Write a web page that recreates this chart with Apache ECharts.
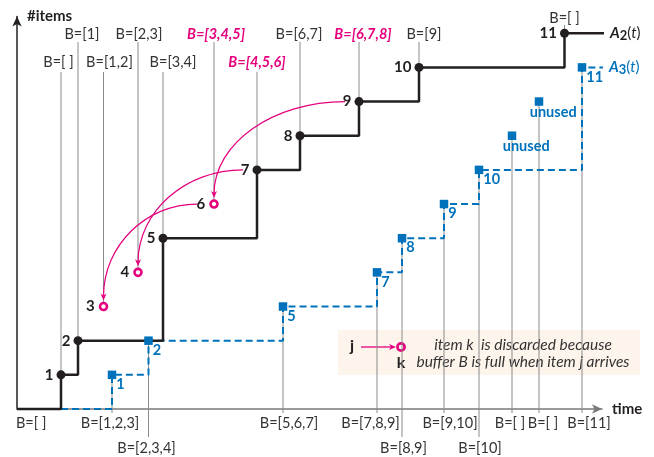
<!DOCTYPE html>
<html><head><meta charset="utf-8">
<script src="https://cdn.jsdelivr.net/npm/echarts@6/dist/echarts.min.js"></script>
<style>html,body{margin:0;padding:0;background:#fff}#c{width:654px;height:457px}</style>
</head><body><div id="c"></div>
<script>
// ---------------- data ----------------
// arrivals of items 1..11 (time, cumulative count = item id)
const itemIds = [1, 2, 3, 4, 5, 6, 7, 8, 9, 10, 11];
const arrivalTimes = [4.4, 6.1, 8.65, 12.1, 14.6, 19.7, 24.0, 28.3, 34.2, 40.2, 54.75];
const discardedItems = [3, 4, 6];
const discardCause = [[6, 3], [7, 4], [9, 6]];          // [j, k]: k discarded when j arrives
const bufferAtArrival = ['B=[ ]', 'B=[1]', 'B=[1,2]', 'B=[2,3]', 'B=[3,4]', 'B=[3,4,5]', 'B=[4,5,6]', 'B=[6,7]', 'B=[6,7,8]', 'B=[9]', 'B=[ ]'];
const bufferFull = [false, false, false, false, false, true, true, false, true, false, false];
const a2EndTime = 58.9;

// output (A3) events
const outputTimes = [9.5, 13.15, 26.6, 36.0, 38.5, 42.7, 46.2, 49.5, 52.2, 56.5];
const outputLevels = [1, 2, 3, 4, 5, 6, 7, 8, 9, 10];
const outputLabels = ['1', '2', '5', '7', '8', '9', '10', 'unused', 'unused', '11'];
const outputUsed = [true, true, true, true, true, true, true, false, false, true];
const bufferAtOutput = ['B=[1,2,3]', 'B=[2,3,4]', 'B=[5,6,7]', 'B=[7,8,9]', 'B=[8,9]', 'B=[9,10]', 'B=[10]', 'B=[ ]', 'B=[ ]', 'B=[11]'];
const a3StartTime = 4.4;
const a3EndTime = 58.9;
const originBuffer = 'B=[ ]';

// ---------------- layout / style ----------------
const FONT = 'Lato, "Noto Sans", sans-serif';
const BLACK = '#231f20', PINK = '#e5007e', BLUE = '#0072bc', GRAY = '#8a8a8a', TXT = '#333';
const X_MAX = 58.5, Y_MAX = 11.49;
const topTier = ['low', 'up', 'low', 'up', 'low', 'up', 'low', 'up', 'up', 'up', 'top'];
const tierY = { up: 10.744, low: 9.866, top: 11.24 };
const tierLabelDy = { up: -8, low: -10, top: -7 };
const topLabelDx = [-2.5, 4, 6, 1, 10, 2, 0, -1, 4, 5, 0];
const botTier = ['short', 'long', 'short', 'short', 'long', 'short', 'long', 'short', 'short', 'short'];
const botExt = { short: 4, long: 28 }, botLabelDy = { short: 14, long: 39 };
const botLabelDx = [-2, -2, 6, -6.5, 1.5, 6, 1, -2, 4, 7];

// ---------------- derived series data ----------------
const keptIdx = itemIds.map((id, i) => i).filter(i => !discardedItems.includes(itemIds[i]));
const a2Line = [[0, 0]].concat(keptIdx.map(i => [arrivalTimes[i], itemIds[i]]), [[a2EndTime, itemIds[itemIds.length - 1]]]);
const keptPts = keptIdx.map(i => ({ value: [arrivalTimes[i], itemIds[i]], name: String(itemIds[i]) }));
const discPts = itemIds.map((id, i) => i).filter(i => discardedItems.includes(itemIds[i]))
  .map(i => ({ value: [arrivalTimes[i], itemIds[i]], name: String(itemIds[i]) }));
const usedIdx = outputTimes.map((t, i) => i).filter(i => outputUsed[i]);
const a3Line = [[a3StartTime, 0]].concat(usedIdx.map(i => [outputTimes[i], outputLevels[i]]),
  [[a3EndTime, outputLevels[usedIdx[usedIdx.length - 1]]]]);
const outPts = outputTimes.map((t, i) => ({
  value: [t, outputLevels[i]], name: outputLabels[i],
  label: outputUsed[i] ? { position: 'right', distance: 0, offset: [0, 9.5] }
                       : { position: 'right', distance: -13.5, offset: [0, 11] }
}));
const timeOf = id => arrivalTimes[itemIds.indexOf(id)];

const chart = echarts.init(document.getElementById('c'), null, { renderer: 'canvas' });
chart.setOption({
  animation: false,
  backgroundColor: '#fff',
  textStyle: { fontFamily: FONT },
  grid: { left: 17, right: 52, top: 16.5, bottom: 48, containLabel: false },
  xAxis: {
    type: 'value', min: 0, max: X_MAX,
    name: 'time', nameLocation: 'end', nameGap: 10,
    nameTextStyle: { fontFamily: FONT, fontWeight: 'bold', fontSize: 15, color: BLACK },
    axisLine: { show: true, onZero: false, symbol: ['none', 'arrow'], symbolSize: [7, 10],
      lineStyle: { color: '#7a7a7a', width: 1.5 } },
    axisTick: { show: false }, axisLabel: { show: false }, splitLine: { show: false }
  },
  yAxis: {
    type: 'value', min: 0, max: Y_MAX,
    name: '#items', nameLocation: 'end', nameGap: 0,
    nameTextStyle: { fontFamily: FONT, fontWeight: 'bold', fontSize: 15, color: BLACK,
      align: 'left', verticalAlign: 'middle', padding: [0, 0, 0, 10] },
    axisLine: { show: true, symbol: ['none', 'arrow'], symbolSize: [7, 10],
      lineStyle: { color: BLACK, width: 1.5 } },
    axisTick: { show: false }, axisLabel: { show: false }, splitLine: { show: false }
  },
  series: [
    { // top gray guide lines with buffer states at arrivals
      type: 'custom', coordinateSystem: 'cartesian2d', clip: false, z: 1, silent: true,
      data: arrivalTimes.map((t, i) => [t, itemIds[i], i]),
      encode: { x: 0, y: 1 },
      renderItem(params, api) {
        const i = api.value(2);
        const p = api.coord([api.value(0), api.value(1)]);
        const tier = topTier[i];
        const ty = api.coord([0, tierY[tier]])[1];
        const full = bufferFull[i];
        return { type: 'group', children: [
          { type: 'line', shape: { x1: p[0], y1: p[1], x2: p[0], y2: ty }, style: { stroke: GRAY, lineWidth: 1 } },
          { type: 'text', x: p[0] + topLabelDx[i], y: ty + tierLabelDy[tier],
            style: { text: bufferAtArrival[i], fill: full ? PINK : TXT, fontFamily: FONT,
              fontSize: 14.5, fontWeight: full ? 'bold' : 'normal', fontStyle: full ? 'italic' : 'normal',
              align: 'center', verticalAlign: 'middle' } }
        ] };
      }
    },
    { // bottom gray guide lines with buffer states at outputs
      type: 'custom', coordinateSystem: 'cartesian2d', clip: false, z: 1, silent: true,
      data: outputTimes.map((t, i) => [t, outputLevels[i], i]),
      encode: { x: 0, y: 1 },
      renderItem(params, api) {
        const i = api.value(2);
        const p = api.coord([api.value(0), api.value(1)]);
        const base = api.coord([api.value(0), 0])[1];
        const tier = botTier[i];
        return { type: 'group', children: [
          { type: 'line', shape: { x1: p[0], y1: p[1], x2: p[0], y2: base + botExt[tier] }, style: { stroke: GRAY, lineWidth: 1 } },
          { type: 'text', x: p[0] + botLabelDx[i], y: base + botLabelDy[tier],
            style: { text: bufferAtOutput[i], fill: TXT, fontFamily: FONT, fontSize: 14.5,
              align: 'center', verticalAlign: 'middle' } }
        ] };
      }
    },
    { // origin buffer label
      type: 'custom', coordinateSystem: 'cartesian2d', clip: false, z: 1, silent: true,
      data: [[0, 0]], encode: { x: 0, y: 1 },
      renderItem(params, api) {
        const p = api.coord([api.value(0), api.value(1)]);
        return { type: 'text', x: p[0] - 1, y: p[1] + 14,
          style: { text: originBuffer, fill: TXT, fontFamily: FONT, fontSize: 14.5, align: 'left', verticalAlign: 'middle' } };
      }
    },
    { // A3(t) dashed step line
      type: 'line', step: 'end', data: a3Line, showSymbol: false, clip: false, z: 2, silent: true,
      lineStyle: { color: BLUE, width: 2, type: [7, 4] },
      endLabel: { show: true, distance: 6, formatter: '{a|A}{s|3}{p|(}{t|t}{p|)}',
        rich: {
          a: { fontFamily: FONT, fontSize: 15, fontWeight: 'bold', fontStyle: 'italic', color: BLUE },
          s: { fontFamily: FONT, fontSize: 13, fontWeight: 'bold', color: BLUE, padding: [5, 0, 0, 0] },
          p: { fontFamily: FONT, fontSize: 15, color: BLUE },
          t: { fontFamily: FONT, fontSize: 15, fontStyle: 'italic', color: BLUE }
        } }
    },
    { // A2(t) solid step line
      type: 'line', step: 'end', data: a2Line, showSymbol: false, clip: false, z: 3, silent: true,
      lineStyle: { color: BLACK, width: 2.5 },
      endLabel: { show: true, distance: 6, formatter: '{a|A}{s|2}{p|(}{t|t}{p|)}',
        rich: {
          a: { fontFamily: FONT, fontSize: 15, fontWeight: 'bold', fontStyle: 'italic', color: BLACK },
          s: { fontFamily: FONT, fontSize: 13, fontWeight: 'bold', color: BLACK, padding: [5, 0, 0, 0] },
          p: { fontFamily: FONT, fontSize: 15, color: BLACK },
          t: { fontFamily: FONT, fontSize: 15, fontStyle: 'italic', color: BLACK }
        } }
    },
    { // discard arrows j -> k
      type: 'custom', coordinateSystem: 'cartesian2d', clip: false, z: 4, silent: true,
      data: discardCause.map(([j, k]) => [timeOf(j), j, timeOf(k), k]),
      encode: { x: [0, 2], y: [1, 3] },
      renderItem(params, api) {
        const j = api.value(1);
        const s = api.coord([api.value(0), j]);
        const e = api.coord([api.value(2), api.value(3)]);
        const sx = s[0] - (discardedItems.includes(j) ? 17 : 14), sy = s[1];
        const ex = e[0], ey = e[1] - 7;
        const k = 0.55;
        return { type: 'group', children: [
          { type: 'bezierCurve', shape: { x1: sx, y1: sy, x2: ex, y2: ey - 3,
              cpx1: sx - k * (sx - ex), cpy1: sy, cpx2: ex, cpy2: ey - 3 - k * (ey - 3 - sy) },
            style: { stroke: PINK, lineWidth: 1.2, fill: null } },
          { type: 'polygon', shape: { points: [[ex, ey + 1], [ex - 3, ey - 6], [ex, ey - 4], [ex + 3, ey - 6]] },
            style: { fill: PINK } }
        ] };
      }
    },
    { // kept arrivals
      type: 'scatter', data: keptPts, symbol: 'circle', symbolSize: 9, z: 5, silent: true,
      itemStyle: { color: BLACK, opacity: 1 },
      label: { show: true, position: 'left', distance: 3, formatter: '{b}',
        fontFamily: FONT, fontSize: 15, fontWeight: 'bold', color: BLACK }
    },
    { // discarded arrivals
      type: 'scatter', data: discPts, symbol: 'circle', symbolSize: 7, z: 5, silent: true,
      itemStyle: { color: '#fff', borderColor: PINK, borderWidth: 2.6, opacity: 1 },
      label: { show: true, position: 'left', distance: 4, formatter: '{b}',
        fontFamily: FONT, fontSize: 15, fontWeight: 'bold', color: BLACK }
    },
    { // outputs
      type: 'scatter', data: outPts, symbol: 'rect', symbolSize: 8.5, z: 5, silent: true,
      itemStyle: { color: BLUE, opacity: 1 },
      label: { show: true, formatter: '{b}', fontFamily: FONT, fontSize: 14.5, fontWeight: 'bold', color: BLUE }
    }
  ],
  graphic: [
    { type: 'group', z: 20, children: [
      { type: 'rect', shape: { x: 338, y: 330, width: 302, height: 45 }, style: { fill: '#fdf4ec' } },
      { type: 'text', x: 352, y: 346, style: { text: 'j', fill: BLACK, fontFamily: FONT, fontSize: 16, fontWeight: 'bold', align: 'center', verticalAlign: 'middle' } },
      { type: 'line', shape: { x1: 361, y1: 347, x2: 391, y2: 347 }, style: { stroke: PINK, lineWidth: 1.3 } },
      { type: 'polygon', shape: { points: [[396, 347], [389, 344], [391, 347], [389, 350]] }, style: { fill: PINK } },
      { type: 'circle', shape: { cx: 401, cy: 347, r: 3.6 }, style: { fill: '#fff', stroke: PINK, lineWidth: 2.6 } },
      { type: 'text', x: 401, y: 363, style: { text: 'k', fill: BLACK, fontFamily: FONT, fontSize: 16, fontWeight: 'bold', align: 'center', verticalAlign: 'middle' } },
      { type: 'text', x: 523, y: 345, style: { text: 'item k  is discarded because', fill: TXT, fontFamily: FONT, fontSize: 15.5, fontStyle: 'italic', align: 'center', verticalAlign: 'middle' } },
      { type: 'text', x: 523, y: 362, style: { text: 'buffer B is full when item j arrives', fill: TXT, fontFamily: FONT, fontSize: 15.5, fontStyle: 'italic', align: 'center', verticalAlign: 'middle' } }
    ] }
  ]
});
</script></body></html>
